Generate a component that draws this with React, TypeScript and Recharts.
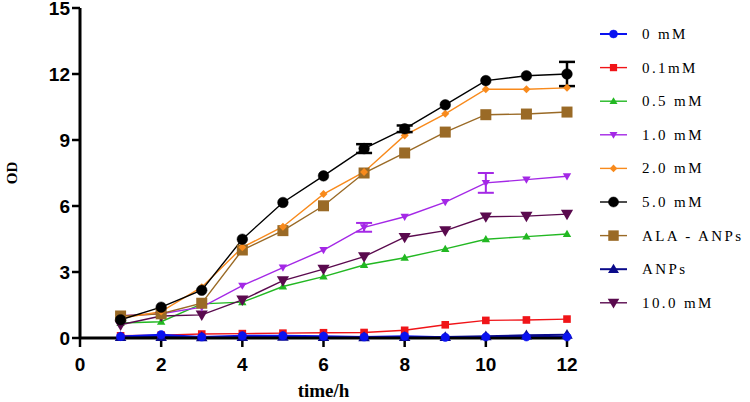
import React from 'react';
import { LineChart, Line, XAxis, YAxis, ErrorBar } from 'recharts';

const hours = [1, 2, 3, 4, 5, 6, 7, 8, 9, 10, 11, 12];
const s0 = [0.07, 0.15, 0.05, 0.1, 0.1, 0.08, 0.05, 0.08, 0.03, 0.05, 0.05, 0.05];
const s01 = [0.1, 0.13, 0.18, 0.2, 0.22, 0.24, 0.25, 0.35, 0.6, 0.8, 0.82, 0.86];
const s05 = [0.68, 0.74, 1.55, 1.63, 2.34, 2.79, 3.32, 3.65, 4.05, 4.49, 4.61, 4.73];
const s10 = [1.01, 1.1, 1.4, 2.38, 3.2, 4.0, 5.03, 5.51, 6.18, 7.05, 7.2, 7.35];
const s20 = [0.9, 1.2, 2.31, 4.12, 5.06, 6.54, 7.55, 9.21, 10.19, 11.31, 11.31, 11.37];
const s50 = [0.83, 1.4, 2.17, 4.49, 6.16, 7.37, 8.61, 9.51, 10.6, 11.7, 11.92, 12.0];
const sAla = [1.0, 1.1, 1.58, 4.0, 4.88, 6.01, 7.5, 8.41, 9.36, 10.15, 10.18, 10.27];
const sAnp = [0.05, 0.05, 0.04, 0.05, 0.06, 0.05, 0.04, 0.05, 0.05, 0.08, 0.12, 0.15];
const s100 = [0.6, 1.0, 1.05, 1.73, 2.61, 3.13, 3.7, 4.58, 4.88, 5.51, 5.54, 5.63];
const e50 = [0, 0, 0, 0, 0, 0, 0.2, 0.15, 0, 0, 0, 0.55];
const e10 = [0, 0, 0, 0, 0, 0, 0.2, 0, 0, 0.45, 0, 0];

const xTicks = [0, 2, 4, 6, 8, 10, 12];
const yTicks = [0, 3, 6, 9, 12, 15];

type Shape = 'circle' | 'square' | 'up' | 'down' | 'diamond';

const seriesList: { key: string; name: string; color: string; shape: Shape; size: number; width: number; values: number[] }[] = [
  { key: 's0', name: '0 mM', color: '#0a12f0', shape: 'circle', size: 4.2, width: 2, values: s0 },
  { key: 's01', name: '0.1mM', color: '#f01418', shape: 'square', size: 3.8, width: 1.4, values: s01 },
  { key: 's05', name: '0.5 mM', color: '#22b822', shape: 'up', size: 4, width: 1.4, values: s05 },
  { key: 's10', name: '1.0 mM', color: '#a428e6', shape: 'down', size: 4, width: 1.4, values: s10 },
  { key: 's20', name: '2.0 mM', color: '#f88a1c', shape: 'diamond', size: 4, width: 1.4, values: s20 },
  { key: 's50', name: '5.0 mM', color: '#000000', shape: 'circle', size: 5.3, width: 1.4, values: s50 },
  { key: 'sAla', name: 'ALA - ANPs', color: '#9a6a26', shape: 'square', size: 5.5, width: 1.4, values: sAla },
  { key: 'sAnp', name: 'ANPs', color: '#0a0a8a', shape: 'up', size: 5.5, width: 2, values: sAnp },
  { key: 's100', name: '10.0 mM', color: '#5a0a4e', shape: 'down', size: 5.8, width: 1.4, values: s100 },
];

const drawOrder = ['s01', 's05', 's100', 's10', 'sAla', 's20', 's50', 'sAnp', 's0'];

const data = hours.map((h, i) => {
  const row: Record<string, number> = { h };
  seriesList.forEach((s) => {
    row[s.key] = s.values[i];
  });
  row.e50 = e50[i];
  row.e10 = e10[i];
  return row;
});

const SERIF = '"Liberation Serif", "DejaVu Serif", "Times New Roman", Times, serif';
const SANS = '"Liberation Sans", Arial, Helvetica, sans-serif';

function marker(shape: Shape, cx: number, cy: number, r: number, color: string, key?: string) {
  switch (shape) {
    case 'circle':
      return <circle key={key} cx={cx} cy={cy} r={r} fill={color} stroke={color} strokeWidth={0.5} />;
    case 'square':
      return <rect key={key} x={cx - r} y={cy - r} width={2 * r} height={2 * r} fill={color} />;
    case 'up':
      return (
        <polygon key={key} points={`${cx},${cy - r * 1.05} ${cx + r * 1.05},${cy + r * 0.75} ${cx - r * 1.05},${cy + r * 0.75}`} fill={color} />
      );
    case 'down':
      return (
        <polygon key={key} points={`${cx},${cy + r * 1.05} ${cx + r * 1.05},${cy - r * 0.75} ${cx - r * 1.05},${cy - r * 0.75}`} fill={color} />
      );
    case 'diamond':
    default:
      return <polygon key={key} points={`${cx},${cy - r} ${cx + r},${cy} ${cx},${cy + r} ${cx - r},${cy}`} fill={color} />;
  }
}

const YTitle = (props: any) => {
  const vb = props.viewBox || { x: 0, y: 8, width: 80, height: 330 };
  const cx = vb.x + 12;
  const cy = vb.y + vb.height / 2;
  return (
    <text
      x={cx}
      y={cy}
      transform={`rotate(-90 ${cx} ${cy})`}
      textAnchor="middle"
      dominantBaseline="central"
      style={{ fontFamily: SERIF, fontWeight: 'bold', fontSize: 15 }}
      fill="#000"
    >
      OD
    </text>
  );
};

const XTitle = (props: any) => {
  const vb = props.viewBox || { x: 80, y: 338, width: 487, height: 64 };
  return (
    <text
      x={vb.x + vb.width / 2}
      y={vb.y + 59}
      textAnchor="middle"
      style={{ fontFamily: SERIF, fontWeight: 'bold', fontSize: 19 }}
      fill="#000"
    >
      time/h
    </text>
  );
};

const tickStyle = { fill: '#000', fontSize: 19, fontWeight: 'bold' as const, fontFamily: SANS };

export default function App() {
  const ordered = drawOrder.map((k) => seriesList.find((s) => s.key === k)!);
  return (
    <div style={{ position: 'absolute', left: 0, top: 0, width: 750, height: 402, background: '#fff' }}>
      <LineChart width={750} height={402} data={data} margin={{ top: 8, right: 183, bottom: 0, left: 0 }}>
        <XAxis
          dataKey="h"
          type="number"
          domain={[0, 12]}
          ticks={xTicks}
          interval={0}
          height={64}
          tickSize={9}
          tickMargin={11}
          axisLine={{ stroke: '#000', strokeWidth: 3 }}
          tickLine={{ stroke: '#000', strokeWidth: 2.5 }}
          tick={tickStyle}
          label={<XTitle />}
        />
        <YAxis
          type="number"
          domain={[0, 15]}
          ticks={yTicks}
          interval={0}
          width={80}
          tickSize={8}
          tickMargin={2}
          axisLine={{ stroke: '#000', strokeWidth: 3 }}
          tickLine={{ stroke: '#000', strokeWidth: 2.5 }}
          tick={tickStyle}
          label={<YTitle />}
        />
        {ordered.map((s) => (
          <Line
            key={s.key}
            dataKey={s.key}
            name={s.name}
            stroke={s.color}
            strokeWidth={s.width}
            isAnimationActive={false}
            activeDot={false}
            dot={(p: any) => marker(s.shape, p.cx, p.cy, s.size, s.color, `${s.key}-${p.index}`)}
          >
            {s.key === 's50' ? <ErrorBar dataKey="e50" width={8} strokeWidth={2.5} stroke="#000" direction="y" /> : null}
            {s.key === 's10' ? <ErrorBar dataKey="e10" width={8} strokeWidth={2} stroke="#a428e6" direction="y" /> : null}
          </Line>
        ))}
      </LineChart>
      <svg width={750} height={402} style={{ position: 'absolute', left: 0, top: 0, pointerEvents: 'none' }}>
        {seriesList.map((s, i) => {
          const y = 34 + i * 33.6;
          return (
            <g key={s.key}>
              <line x1={600} x2={627} y1={y} y2={y} stroke={s.color} strokeWidth={s.width} />
              {marker(s.shape, 613.5, y, s.size * 0.95, s.color)}
              <text
                x={642}
                y={y}
                dominantBaseline="central"
                style={{ fontFamily: SERIF, fontSize: 15, letterSpacing: 2.4 }}
                fill="#000"
              >
                {s.name}
              </text>
            </g>
          );
        })}
      </svg>
    </div>
  );
}
